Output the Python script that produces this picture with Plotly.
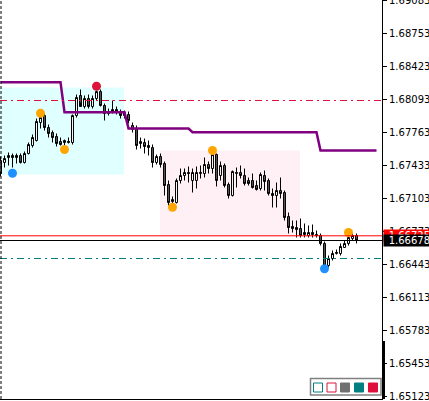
import plotly.graph_objects as go

# ---------------- data ----------------
opens = [1.67478, 1.67458, 1.67508, 1.67508, 1.67528, 1.67528, 1.67458, 1.67548, 1.67628, 1.67678,
         1.67858, 1.67928, 1.67808, 1.67758, 1.67718, 1.67668, 1.67658, 1.67658, 1.67658, 1.67928,
         1.68128, 1.68018, 1.68098, 1.68018, 1.68098, 1.68168, 1.68028, 1.67948, 1.67968, 1.67988,
         1.67968, 1.67958, 1.67938, 1.67828, 1.67788, 1.67648, 1.67658, 1.67628, 1.67608, 1.67458,
         1.67518, 1.67448, 1.67238, 1.67068, 1.67058, 1.67278, 1.67328, 1.67358, 1.67278, 1.67278,
         1.67348, 1.67348, 1.67438, 1.67398, 1.67538, 1.67328, 1.67428, 1.67238, 1.67128, 1.67348,
         1.67358, 1.67328, 1.67278, 1.67278, 1.67228, 1.67198, 1.67328, 1.67278, 1.67148, 1.67128,
         1.67178, 1.67158, 1.66918, 1.66818, 1.66808, 1.66798, 1.66758, 1.66728, 1.66758, 1.66738,
         1.66728, 1.66648, 1.66428, 1.66498, 1.66548, 1.66548, 1.66608, 1.66648, 1.66698, 1.66728]
highs = [1.67518, 1.67528, 1.67558, 1.67548, 1.67548, 1.67548, 1.67568, 1.67658, 1.67738, 1.67898,
         1.67928, 1.67948, 1.67838, 1.67778, 1.67748, 1.67708, 1.67688, 1.67708, 1.67938, 1.68138,
         1.68188, 1.68128, 1.68138, 1.68128, 1.68178, 1.68188, 1.68048, 1.67998, 1.68078, 1.68018,
         1.67988, 1.67978, 1.67968, 1.67858, 1.67828, 1.67708, 1.67698, 1.67678, 1.67638, 1.67538,
         1.67548, 1.67468, 1.67278, 1.67118, 1.67298, 1.67398, 1.67398, 1.67418, 1.67398, 1.67418,
         1.67428, 1.67508, 1.67468, 1.67558, 1.67548, 1.67468, 1.67448, 1.67258, 1.67378, 1.67408,
         1.67428, 1.67398, 1.67308, 1.67348, 1.67278, 1.67358, 1.67378, 1.67298, 1.67198, 1.67258,
         1.67308, 1.67178, 1.66958, 1.66878, 1.66878, 1.66898, 1.66848, 1.66828, 1.66838, 1.66778,
         1.66748, 1.66668, 1.66528, 1.66578, 1.66588, 1.66648, 1.66678, 1.66718, 1.66748, 1.66748]
lows = [1.67318, 1.67408, 1.67428, 1.67408, 1.67448, 1.67448, 1.67448, 1.67538, 1.67608, 1.67668,
        1.67798, 1.67778, 1.67708, 1.67658, 1.67618, 1.67628, 1.67628, 1.67648, 1.67638, 1.67908,
        1.68058, 1.67998, 1.67998, 1.67998, 1.68078, 1.68018, 1.67878, 1.67928, 1.67948, 1.67938,
        1.67898, 1.67898, 1.67848, 1.67758, 1.67588, 1.67598, 1.67548, 1.67528, 1.67408, 1.67438,
        1.67408, 1.67128, 1.67028, 1.67048, 1.67048, 1.67248, 1.67278, 1.67258, 1.67158, 1.67198,
        1.67298, 1.67308, 1.67348, 1.67348, 1.67218, 1.67278, 1.67208, 1.67098, 1.67118, 1.67208,
        1.67298, 1.67228, 1.67228, 1.67198, 1.67178, 1.67178, 1.67178, 1.67128, 1.67008, 1.67008,
        1.67098, 1.66878, 1.66748, 1.66758, 1.66708, 1.66708, 1.66708, 1.66708, 1.66708, 1.66708,
        1.66628, 1.66418, 1.66408, 1.66478, 1.66538, 1.66528, 1.66608, 1.66628, 1.66678, 1.66648]
closes = [1.67348, 1.67498, 1.67528, 1.67528, 1.67508, 1.67458, 1.67548, 1.67638, 1.67708, 1.67868,
          1.67908, 1.67808, 1.67748, 1.67708, 1.67648, 1.67638, 1.67678, 1.67668, 1.67928, 1.68108,
          1.68018, 1.68098, 1.68018, 1.68098, 1.68168, 1.68028, 1.67948, 1.67968, 1.67988, 1.67968,
          1.67928, 1.67928, 1.67878, 1.67788, 1.67628, 1.67668, 1.67618, 1.67608, 1.67458, 1.67518,
          1.67438, 1.67228, 1.67058, 1.67088, 1.67278, 1.67328, 1.67358, 1.67348, 1.67358, 1.67358,
          1.67358, 1.67438, 1.67398, 1.67538, 1.67278, 1.67428, 1.67228, 1.67128, 1.67368, 1.67358,
          1.67328, 1.67248, 1.67248, 1.67208, 1.67188, 1.67338, 1.67268, 1.67148, 1.67128, 1.67178,
          1.67148, 1.66908, 1.66808, 1.66798, 1.66788, 1.66728, 1.66738, 1.66758, 1.66738, 1.66728,
          1.66648, 1.66428, 1.66498, 1.66548, 1.66558, 1.66618, 1.66648, 1.66708, 1.66728, 1.66678]

# purple stepped indicator (extends past the last bar)
trail = ([1.68261] * 16 + [1.67961] * 16 + [1.67798] * 16 + [1.67761] * 32 + [1.67578] * 15)

# signal dots: (bar index, price)
orange_x = [10, 16, 43, 53, 87]
orange_y = [1.67951, 1.67588, 1.67011, 1.67578, 1.66758]
blue_x = [3, 81]
blue_y = [1.67351, 1.66395]
red_x = [24]
red_y = [1.68221]

# horizontal levels
level_red = 1.68078
level_teal = 1.66498
ask_price = 1.66725
bid_price = 1.66678

# range boxes: (first bar, last bar, low, high)
box_cyan = (-0.125, 30.875, 1.67338, 1.68208)
box_pink = (39.875, 74.875, 1.66718, 1.67578)

tick_vals = [1.65123, 1.65453, 1.65783, 1.66113, 1.66443, 1.66773,
             1.67103, 1.67433, 1.67763, 1.68093, 1.68423, 1.68753, 1.69083]

# ---------------- figure ----------------
W, H = 429, 401
PW, PH = 382, 399          # plot area in pixels
PRICE_TOP = 1.69083        # price at the top edge of the plot
PIP_PX = 10000.0           # pixels per price unit
idx = list(range(len(opens)))
FONT = "DejaVu Sans"

fig = go.Figure()

fig.add_trace(go.Candlestick(
    x=idx, open=opens, high=highs, low=lows, close=closes,
    increasing=dict(line=dict(color="black", width=1), fillcolor="white"),
    decreasing=dict(line=dict(color="black", width=1), fillcolor="#5a5a5a"),
    whiskerwidth=0, showlegend=False, hoverinfo="skip"))

fig.add_trace(go.Scatter(x=list(range(len(trail))), y=trail, mode="lines",
                         line=dict(color="#800080", width=2.5), showlegend=False,
                         hoverinfo="skip"))

for xs, ys, col in [(orange_x, orange_y, "#ffa500"), (blue_x, blue_y, "#1e90ff"),
                    (red_x, red_y, "#dc143c")]:
    fig.add_trace(go.Scatter(x=xs, y=ys, mode="markers",
                             marker=dict(color=col, size=9, line=dict(width=0)),
                             showlegend=False, hoverinfo="skip", cliponaxis=False))

# boxes
fig.add_shape(type="rect", xref="x", yref="y", x0=box_cyan[0], x1=box_cyan[1],
              y0=box_cyan[2], y1=box_cyan[3], fillcolor="#e0ffff", line_width=0, layer="below")
fig.add_shape(type="rect", xref="x", yref="y", x0=box_pink[0], x1=box_pink[1],
              y0=box_pink[2], y1=box_pink[3], fillcolor="#fff0f5", line_width=0, layer="below")

# levels
fig.add_shape(type="line", xref="paper", yref="y", x0=0, x1=1, y0=level_red, y1=level_red,
              line=dict(color="#e0103c", width=1, dash="7px,4px,2px,4px"))
fig.add_shape(type="line", xref="paper", yref="y", x0=0, x1=1, y0=level_teal, y1=level_teal,
              line=dict(color="#008080", width=1, dash="7px,4px,2px,4px"))
fig.add_shape(type="line", xref="paper", yref="y", x0=0, x1=1, y0=ask_price, y1=ask_price,
              line=dict(color="#ff0000", width=1))
fig.add_shape(type="line", xref="paper", yref="y", x0=0, x1=1, y0=bid_price, y1=bid_price,
              line=dict(color="black", width=1))

def px_x(p):
    return p / PW

def px_y(p):
    return 1 - p / PH

# period separator on the left
fig.add_shape(type="line", xref="paper", yref="paper", x0=px_x(1), x1=px_x(1), y0=0, y1=1,
              line=dict(color="black", width=1, dash="3px,2px"))

# thick bar at bottom of the price scale
fig.add_shape(type="rect", xref="paper", yref="paper", x0=px_x(382), x1=px_x(385),
              y0=px_y(399), y1=px_y(341), fillcolor="black", line_width=0)

# small button panel bottom-right
fig.add_shape(type="rect", xref="paper", yref="paper", x0=px_x(310.5), x1=px_x(381),
              y0=px_y(395), y1=px_y(378.5), fillcolor="white",
              line=dict(color="#808080", width=1.5))
panel = [(313.5, "white", "#008080"), (327, "white", "#dc143c"),
         (340.5, "#707070", "#707070"), (354.5, "#008080", "#008080"),
         (368.5, "#e0103c", "#e0103c")]
for x0, fill, edge in panel:
    fig.add_shape(type="rect", xref="paper", yref="paper", x0=px_x(x0), x1=px_x(x0 + 9),
                  y0=px_y(392), y1=px_y(383), fillcolor=fill,
                  line=dict(color=edge, width=1))

# price labels on the scale
fig.add_annotation(xref="paper", yref="y", x=1, y=ask_price, xanchor="left", yanchor="middle",
                   xshift=1, text="1.66725", showarrow=False, bgcolor="#ff0000",
                   font=dict(color="white", size=10, family=FONT),
                   width=46, height=11, borderpad=0, align="right")
fig.add_annotation(xref="paper", yref="y", x=1, y=bid_price, xanchor="left", yanchor="middle",
                   xshift=1, text="1.66678", showarrow=False, bgcolor="black",
                   font=dict(color="white", size=10, family=FONT),
                   width=46, height=11, borderpad=0, align="right")

fig.update_layout(
    width=W, height=H,
    margin=dict(l=0, r=W - PW, t=0, b=H - PH, autoexpand=False),
    paper_bgcolor="white", plot_bgcolor="white",
    showlegend=False,
    xaxis=dict(range=[-0.125, -0.125 + PW / 4.0], showgrid=False, zeroline=False,
               showticklabels=False, ticks="", showline=True, linecolor="black",
               linewidth=1, rangeslider=dict(visible=False), fixedrange=True,
               automargin=False),
    yaxis=dict(range=[PRICE_TOP - PH / PIP_PX, PRICE_TOP], side="right", showgrid=False,
               zeroline=False, tickvals=tick_vals, ticktext=[f"{v:.5f}" for v in tick_vals],
               ticks="outside", ticklen=4, tickcolor="black", showline=True,
               linecolor="black", linewidth=1, automargin=False, fixedrange=True,
               ticklabeloverflow="allow",
               tickfont=dict(family=FONT, size=10, color="black")),
)

fig.write_html("out.html", config={"displayModeBar": False, "staticPlot": True},
               post_script="document.body.style.margin='0px';document.body.style.overflow='hidden';")
